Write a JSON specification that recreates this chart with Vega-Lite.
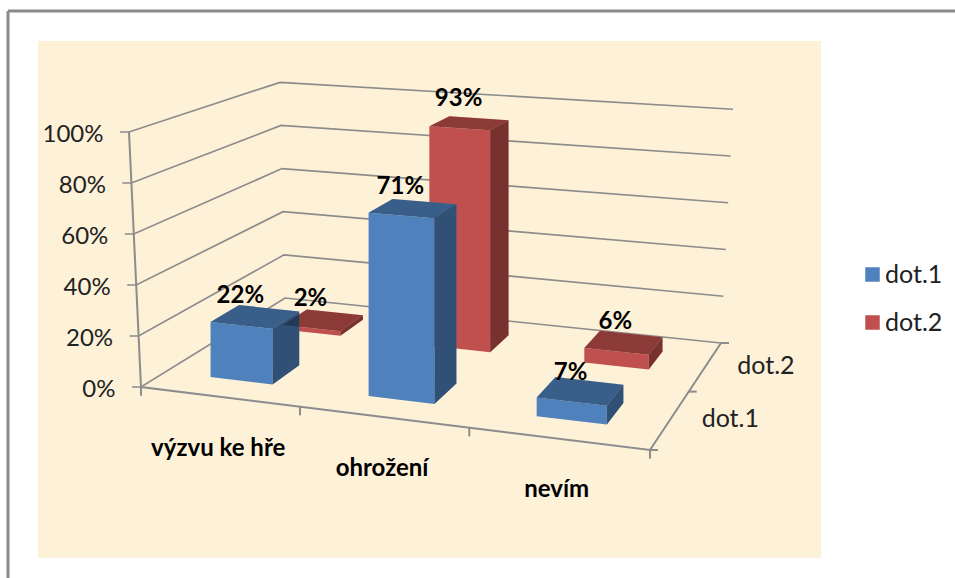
{
"$schema":"https://vega.github.io/schema/vega-lite/v6.json",
"width":783,"height":517,
"autosize":{"type":"none"},
"padding":{"left":38,"top":41,"right":134,"bottom":20},
"background":"white",
"config":{"view":{"fill":"#FDF1D8","stroke":null},"font":"Lato"},
"datasets":{
"bars":[
{"category":"výzvu ke hře","series":"dot.2","value":2},
{"category":"ohrožení","series":"dot.2","value":93},
{"category":"nevím","series":"dot.2","value":6},
{"category":"výzvu ke hře","series":"dot.1","value":22},
{"category":"ohrožení","series":"dot.1","value":71},
{"category":"nevím","series":"dot.1","value":7}
],
"levels":[{"level":0},{"level":20},{"level":40},{"level":60},{"level":80},{"level":100}],
"catTicks":[{"t":0},{"t":1},{"t":2},{"t":3}],
"depthTicks":[{"d":0},{"d":0.5},{"d":1}],
"seriesNames":[{"series":"dot.1","w":0.25},{"series":"dot.2","w":0.755}]
},
"layer":[
{"data":{"values":[{"edge":"left"}]},"mark":{"type":"rule","stroke":"#8a8a8a","strokeWidth":3,"clip":false},
 "encoding":{"x":{"datum":8,"type":"quantitative","scale":{"domain":[38,821],"nice":false,"zero":false},"axis":null},"y":{"datum":147.45,"type":"quantitative","scale":{"domain":[-67.059,135.686],"nice":false,"zero":false},"axis":{"title":null,"values":[0,20,40,60,80,100],"labelExpr":"datum.value+'%'","domain":false,"ticks":false,"grid":false,"offset":-77,"labelPadding":0,"labelFontSize":24,"labelColor":"#222","labelFont":"Lato","labelOffset":3,"encoding":{"labels":{"dx":{"value":{"signal":"-datum.value*0.12"}}}}}},"y2":{"datum":-74.9}}},
{"data":{"values":[{"edge":"top"}]},"mark":{"type":"rule","stroke":"#8a8a8a","strokeWidth":3,"clip":false},
 "encoding":{"x":{"datum":8,"type":"quantitative"},"x2":{"datum":955},"y":{"datum":147.45,"type":"quantitative"}}},
{"data":{"name":"levels"},
 "transform":[
  {"calculate":"[0,1,2,3]","as":"i"},{"flatten":["i"]},
  {"calculate":"[0,0,0,1][datum.i]","as":"u"},
  {"calculate":"[0,0,1,1][datum.i]","as":"w"},
  {"calculate":"[-12,-12,-5,12][datum.i]*datum.level/100+[-9,0,0,0][datum.i]","as":"s"},
  {"calculate":"1-0.09154*datum.u+0.18234*datum.w","as":"den"},
  {"calculate":"(449.5*datum.u+195.97*datum.w+141)/datum.den+datum.s","as":"px"},
  {"calculate":"(387-(21.81*datum.u-34.66*datum.w+387)/datum.den)/2.55+datum.level/datum.den","as":"yv"}
 ],
 "mark":{"type":"line","stroke":"#8c8c8c","strokeWidth":1.7},
 "encoding":{"x":{"field":"px","type":"quantitative"},"y":{"field":"yv","type":"quantitative"},"order":{"field":"i"},"detail":{"field":"level"}}},
{"data":{"values":[{"part":"floor"}]},
 "transform":[
  {"calculate":"[0,1,2,3]","as":"i"},{"flatten":["i"]},
  {"calculate":"[0,0,1,1][datum.i]","as":"u"},
  {"calculate":"[0,0,0,1][datum.i]","as":"w"},
  {"calculate":"[100,0,0,0][datum.i]","as":"z"},
  {"calculate":"1-0.09154*datum.u+0.18234*datum.w","as":"den"},
  {"calculate":"(449.5*datum.u+195.97*datum.w+141)/datum.den+[-12,0,0,0][datum.i]","as":"px"},
  {"calculate":"(387-(21.81*datum.u-34.66*datum.w+387)/datum.den)/2.55+datum.z/datum.den","as":"yv"}
 ],
 "mark":{"type":"line","stroke":"#8c8c8c","strokeWidth":2},
 "encoding":{"x":{"field":"px","type":"quantitative"},"y":{"field":"yv","type":"quantitative"},"order":{"field":"i"}}},
{"data":{"name":"catTicks"},
 "transform":[
  {"calculate":"datum.t/3","as":"u"},
  {"calculate":"1-0.09154*datum.u","as":"den"},
  {"calculate":"(449.5*datum.u+141)/datum.den","as":"px"},
  {"calculate":"(387-(21.81*datum.u+387)/datum.den)/2.55","as":"yv"},
  {"calculate":"datum.yv-3.4","as":"yv2"}
 ],
 "mark":{"type":"rule","stroke":"#8c8c8c","strokeWidth":2},
 "encoding":{"x":{"field":"px","type":"quantitative"},"y":{"field":"yv","type":"quantitative"},"y2":{"field":"yv2"}}},
{"data":{"name":"depthTicks"},
 "transform":[
  {"calculate":"1-0.09154+0.18234*datum.d","as":"den"},
  {"calculate":"(449.5+195.97*datum.d+141)/datum.den","as":"px"},
  {"calculate":"datum.px+8","as":"px2"},
  {"calculate":"(387-(21.81-34.66*datum.d+387)/datum.den)/2.55","as":"yv"}
 ],
 "mark":{"type":"rule","stroke":"#8c8c8c","strokeWidth":2},
 "encoding":{"x":{"field":"px","type":"quantitative"},"x2":{"field":"px2"},"y":{"field":"yv","type":"quantitative"}}},
{"data":{"name":"bars"},
 "transform":[
  {"calculate":"indexof(['výzvu ke hře','ohrožení','nevím'],datum.category)","as":"c"},
  {"calculate":"0.098+0.333*datum.c","as":"u0"},
  {"calculate":"datum.u0+0.133","as":"u1"},
  {"calculate":"datum.series=='dot.1'?0.15:0.66","as":"w0"},
  {"calculate":"datum.series=='dot.1'?0.34:0.85","as":"w1"},
  {"calculate":"['front','side','top']","as":"face"},{"flatten":["face"]},
  {"calculate":"[0,1,2,3]","as":"vi"},{"flatten":["vi"]},
  {"calculate":"datum.face=='side'?datum.u1:[datum.u0,datum.u1,datum.u1,datum.u0][datum.vi]","as":"u"},
  {"calculate":"datum.face=='front'?datum.w0:(datum.face=='side'?[datum.w0,datum.w1,datum.w1,datum.w0][datum.vi]:[datum.w0,datum.w0,datum.w1,datum.w1][datum.vi])","as":"w"},
  {"calculate":"datum.face=='top'?datum.value:[0,0,datum.value,datum.value][datum.vi]","as":"z"},
  {"calculate":"1-0.09154*datum.u+0.18234*datum.w","as":"den"},
  {"calculate":"(449.5*datum.u+195.97*datum.w+141)/datum.den","as":"px"},
  {"calculate":"(387-(21.81*datum.u-34.66*datum.w+387)/datum.den)/2.55+datum.z/datum.den","as":"yv"},
  {"calculate":"datum.series+datum.category+datum.face","as":"key"}
 ],
 "layer":[
  {"mark":{"type":"line","strokeWidth":0,"stroke":null},
   "encoding":{"x":{"field":"px","type":"quantitative"},"y":{"field":"yv","type":"quantitative"},"order":{"field":"vi"},"detail":{"field":"key"},
    "fill":{"field":"series","type":"nominal","scale":{"domain":["dot.1","dot.2"],"range":["#4F81BD","#C0504D"]},
     "legend":{"title":null,"orient":"none","legendX":822,"legendY":221,"symbolType":"square","symbolSize":210,"symbolStrokeWidth":0,"labelFontSize":25,"labelFont":"Lato","labelColor":"#222","rowPadding":22,"labelOffset":0}}}},
  {"mark":{"type":"line","strokeWidth":0,"stroke":null,"fill":"black"},
   "encoding":{"x":{"field":"px","type":"quantitative"},"y":{"field":"yv","type":"quantitative"},"order":{"field":"vi"},"detail":{"field":"key"},
    "opacity":{"field":"face","type":"nominal","scale":{"type":"ordinal","domain":["front","side","top"],"range":[0,0.38,0.27]},"legend":null}}}
 ]},
{"data":{"name":"bars"},
 "transform":[
  {"calculate":"indexof(['výzvu ke hře','ohrožení','nevím'],datum.category)","as":"c"},
  {"calculate":"0.1645+0.333*datum.c","as":"u"},
  {"calculate":"datum.series=='dot.1'?0.15:0.66","as":"w"},
  {"calculate":"1-0.09154*datum.u+0.18234*datum.w","as":"den"},
  {"calculate":"(449.5*datum.u+195.97*datum.w+141)/datum.den","as":"px"},
  {"calculate":"(387-(21.81*datum.u-34.66*datum.w+387)/datum.den)/2.55+datum.value/datum.den","as":"yv"},
  {"calculate":"datum.value+'%'","as":"label"}
 ],
 "mark":{"type":"text","font":"Lato","fontWeight":"bold","fontSize":24,"dy":-29,"dx":-1,"color":"#000"},
 "encoding":{"x":{"field":"px","type":"quantitative"},"y":{"field":"yv","type":"quantitative"},"text":{"field":"label"}}},
{"data":{"name":"bars"},
 "transform":[
  {"filter":"datum.series=='dot.1'"},
  {"calculate":"indexof(['výzvu ke hře','ohrožení','nevím'],datum.category)","as":"c"},
  {"calculate":"0.1645+0.333*datum.c","as":"u"},
  {"calculate":"1-0.09154*datum.u","as":"den"},
  {"calculate":"(449.5*datum.u+141)/datum.den","as":"px"},
  {"calculate":"(387-(21.81*datum.u+387)/datum.den)/2.55","as":"yv"}
 ],
 "mark":{"type":"text","font":"Lato","fontWeight":"bold","fontSize":24,"dy":52,"color":"#000"},
 "encoding":{"x":{"field":"px","type":"quantitative"},"y":{"field":"yv","type":"quantitative"},"text":{"field":"category"}}},
{"data":{"name":"seriesNames"},
 "transform":[
  {"calculate":"1-0.09154+0.18234*datum.w","as":"den"},
  {"calculate":"(449.5+195.97*datum.w+141)/datum.den","as":"px"},
  {"calculate":"(387-(21.81-34.66*datum.w+387)/datum.den)/2.55","as":"yv"}
 ],
 "mark":{"type":"text","font":"Lato","fontSize":25,"dx":60,"color":"#222"},
 "encoding":{"x":{"field":"px","type":"quantitative"},"y":{"field":"yv","type":"quantitative"},"text":{"field":"series"}}}
]
}
